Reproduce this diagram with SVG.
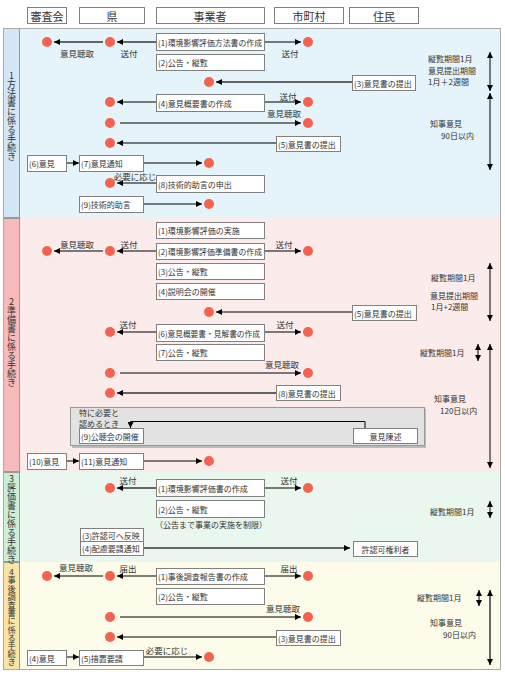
<svg xmlns="http://www.w3.org/2000/svg" width="505" height="685" viewBox="0 0 505 685">
<style>
text{font-family:"Noto Sans CJK JP","Noto Sans",sans-serif;fill:#333;}
.hd{font-size:11px;text-anchor:middle;dominant-baseline:central;}
.bx rect{fill:#fff;stroke:#808080;stroke-width:1;}
.bx text{font-size:8px;dominant-baseline:central;}
.lb{font-size:8.5px;text-anchor:middle;dominant-baseline:central;}
.rt{font-size:8px;dominant-baseline:central;}
.vt{font-size:9px;writing-mode:vertical-rl;text-orientation:upright;dominant-baseline:central;}
.dot{fill:#f5624e;}
.ln{stroke:#000;stroke-width:1;fill:none;marker-end:url(#ah);}
.lg{stroke:#666;stroke-width:2;fill:none;marker-end:url(#ah);}
.da{stroke:#000;stroke-width:1;fill:none;marker-start:url(#ah);marker-end:url(#ah);}
.dg{stroke:#666;stroke-width:2;fill:none;marker-start:url(#ah);marker-end:url(#ah);}
.strip{stroke:#999;stroke-width:1;}
</style>
<defs>
<marker id="ah" viewBox="0 0 6 6" refX="6" refY="3" markerWidth="6" markerHeight="6" markerUnits="userSpaceOnUse" orient="auto-start-reverse"><path d="M0,0 L6,3 L0,6 z" fill="#000"/></marker>
</defs>
<rect width="505" height="685" fill="#fff"/>

<!-- header -->
<g id="header">
<g id="h-shinsakai" class="bx"><rect x="27.5" y="7.5" width="39" height="16"/><text class="hd" x="47" y="15.5" style="font-size:11px">審査会</text></g>
<g id="h-ken" class="bx"><rect x="79.5" y="7.5" width="65" height="16"/><text class="hd" x="112" y="15.5" style="font-size:11px">県</text></g>
<g id="h-jigyosha" class="bx"><rect x="156.5" y="7.5" width="108" height="16"/><text class="hd" x="210" y="15.5" style="font-size:11px">事業者</text></g>
<g id="h-shichoson" class="bx"><rect x="274.5" y="7.5" width="69" height="16"/><text class="hd" x="309" y="15.5" style="font-size:11px">市町村</text></g>
<g id="h-jumin" class="bx"><rect x="349.5" y="7.5" width="69" height="16"/><text class="hd" x="384" y="15.5" style="font-size:11px">住民</text></g>
</g>

<!-- section backgrounds -->
<g id="sections">
<rect x="20" y="28" width="481" height="190" fill="#e5f3fa"/>
<rect x="3.5" y="28.5" width="16" height="189" fill="#d2e6f5" class="strip"/>
<rect x="20" y="218" width="481" height="254" fill="#fbeceb"/>
<rect x="3.5" y="218.5" width="16" height="253" fill="#f7baba" class="strip"/>
<rect x="20" y="472" width="481" height="90" fill="#eaf7ef"/>
<rect x="3.5" y="472.5" width="16" height="89" fill="#cdeed6" class="strip"/>
<rect x="20" y="562" width="481" height="108" fill="#fdfbe9"/>
<rect x="3.5" y="562.5" width="16" height="107" fill="#fbe3a6" class="strip"/>
<rect x="3.5" y="28.5" width="497" height="641" fill="none" stroke="#aaa" stroke-width="1"/>
<text class="vt" x="11.5" y="71">1方法書に係る手続き</text>
<text class="vt" x="11.5" y="297">2準備書に係る手続き</text>
<text class="vt" x="11.5" y="474">3評価書に係る手続き</text>
<text class="vt" x="11.5" y="568" style="font-size:8.2px">4事後調査書に係る手続き</text>
</g>

<!-- gray area -->
<g id="tokuni">
<rect x="72" y="409" width="354" height="39" fill="#bbb"/>
<rect x="70.5" y="407.5" width="354" height="38" fill="#e2e2e2" stroke="#999"/>
<text x="79" y="412" style="font-size:8px" dominant-baseline="central">特に必要と</text>
<text x="79" y="423" style="font-size:8px" dominant-baseline="central">認めるとき</text>
</g>

<!-- connectors -->
<g id="connectors">
<path class="lg" d="M156,42 H117"/>
<path class="lg" d="M103,42 H54"/>
<path class="ln" d="M264,42 H301"/>
<path class="lg" d="M352,82 H216"/>
<path class="ln" d="M156,102 H117"/>
<path class="ln" d="M264,102 H301"/>
<path class="ln" d="M120,123 H301"/>
<path class="ln" d="M276,143 H117"/>
<path class="ln" d="M66,163 H79"/>
<path class="ln" d="M143,163 H202"/>
<path class="ln" d="M156,183 H117"/>
<path class="ln" d="M143,204 H202"/>
<path class="ln" d="M156,251 H117"/>
<path class="ln" d="M103,251 H54"/>
<path class="ln" d="M264,251 H301"/>
<path class="ln" d="M352,312 H216"/>
<path class="ln" d="M156,332 H117"/>
<path class="ln" d="M264,332 H301"/>
<path class="ln" d="M120,373 H301"/>
<path class="lg" d="M276,393 H117"/>
<path class="ln" d="M365,428 V421.5 H130.5 V428"/>
<path class="ln" d="M66,461 H79"/>
<path class="ln" d="M143,461 H202"/>
<path class="lg" d="M156,488 H117"/>
<path class="ln" d="M264,488 H301"/>
<path class="lg" d="M143,548 H350"/>
<path class="ln" d="M156,576 H117"/>
<path class="ln" d="M103,576 H54"/>
<path class="ln" d="M264,576 H301"/>
<path class="ln" d="M120,617 H301"/>
<path class="ln" d="M276,637 H117"/>
<path class="ln" d="M66,657 H79"/>
<path class="ln" d="M143,657 H202"/>
<path class="da" d="M490,52 V91"/>
<path class="da" d="M490,93 V170"/>
<path class="da" d="M490,263 V321"/>
<path class="da" d="M478,344 V361"/>
<path class="da" d="M490,344 V468"/>
<path class="da" d="M490,501 V518"/>
<path class="da" d="M479,590 V606"/>
<path class="dg" d="M490,590 V665"/>
</g>

<!-- dots -->
<g id="dots">
<circle class="dot" cx="47" cy="42" r="5"/><circle class="dot" cx="110" cy="42" r="5"/><circle class="dot" cx="308" cy="42" r="5"/>
<circle class="dot" cx="209" cy="82" r="5"/>
<circle class="dot" cx="110" cy="102" r="5"/><circle class="dot" cx="308" cy="102" r="5"/>
<circle class="dot" cx="110" cy="123" r="5"/><circle class="dot" cx="308" cy="123" r="5"/>
<circle class="dot" cx="110" cy="143" r="5"/>
<circle class="dot" cx="209" cy="163" r="5"/>
<circle class="dot" cx="110" cy="183" r="5"/>
<circle class="dot" cx="209" cy="204" r="5"/>
<circle class="dot" cx="47" cy="251" r="5"/><circle class="dot" cx="110" cy="251" r="5"/><circle class="dot" cx="308" cy="251" r="5"/>
<circle class="dot" cx="209" cy="312" r="5"/>
<circle class="dot" cx="110" cy="332" r="5"/><circle class="dot" cx="308" cy="332" r="5"/>
<circle class="dot" cx="110" cy="373" r="5"/><circle class="dot" cx="308" cy="373" r="5"/>
<circle class="dot" cx="110" cy="393" r="5"/>
<circle class="dot" cx="209" cy="461" r="5"/>
<circle class="dot" cx="110" cy="488" r="5"/><circle class="dot" cx="308" cy="488" r="5"/>
<circle class="dot" cx="47" cy="576" r="5"/><circle class="dot" cx="110" cy="576" r="5"/><circle class="dot" cx="308" cy="576" r="5"/>
<circle class="dot" cx="110" cy="617" r="5"/><circle class="dot" cx="308" cy="617" r="5"/>
<circle class="dot" cx="110" cy="637" r="5"/>
<circle class="dot" cx="209" cy="657" r="5"/>
</g>

<!-- section 1 nodes -->
<g id="s1-1" class="bx"><rect x="156.5" y="33.5" width="108" height="17"/><text x="158" y="42" textLength="104" lengthAdjust="spacingAndGlyphs">(1)環境影響評価方法書の作成</text></g>
<g id="s1-2" class="bx"><rect x="156.5" y="54.5" width="108" height="16"/><text x="158" y="62.5">(2)公告・縦覧</text></g>
<g id="s1-3" class="bx"><rect x="352.5" y="75.5" width="63" height="15"/><text x="354" y="83">(3)意見書の提出</text></g>
<g id="s1-4" class="bx"><rect x="156.5" y="94.5" width="108" height="17"/><text x="158" y="103">(4)意見概要書の作成</text></g>
<g id="s1-5" class="bx"><rect x="276.5" y="136.5" width="64" height="15"/><text x="278" y="144">(5)意見書の提出</text></g>
<g id="s1-6" class="bx"><rect x="27.5" y="155.5" width="39" height="16"/><text x="29" y="163.5">(6)意見</text></g>
<g id="s1-7" class="bx"><rect x="79.5" y="155.5" width="64" height="16"/><text x="81" y="163.5">(7)意見通知</text></g>
<g id="s1-8" class="bx"><rect x="156.5" y="175.5" width="108" height="17"/><text x="158" y="184">(8)技術的助言の申出</text></g>
<g id="s1-9" class="bx"><rect x="79.5" y="196.5" width="64" height="16"/><text x="81" y="204.5">(9)技術的助言</text></g>

<!-- section 2 nodes -->
<g id="s2-1" class="bx"><rect x="156.5" y="222.5" width="108" height="16"/><text x="158" y="230.5">(1)環境影響評価の実施</text></g>
<g id="s2-2" class="bx"><rect x="156.5" y="243.5" width="108" height="16"/><text x="158" y="251.5" textLength="104" lengthAdjust="spacingAndGlyphs">(2)環境影響評価準備書の作成</text></g>
<g id="s2-3" class="bx"><rect x="156.5" y="263.5" width="108" height="16"/><text x="158" y="271.5">(3)公告・縦覧</text></g>
<g id="s2-4" class="bx"><rect x="156.5" y="283.5" width="108" height="16"/><text x="158" y="291.5">(4)説明会の開催</text></g>
<g id="s2-5" class="bx"><rect x="352.5" y="305.5" width="64" height="15"/><text x="354" y="313">(5)意見書の提出</text></g>
<g id="s2-6" class="bx"><rect x="156.5" y="324.5" width="108" height="17"/><text x="158" y="333" textLength="102" lengthAdjust="spacingAndGlyphs">(6)意見概要書・見解書の作成</text></g>
<g id="s2-7" class="bx"><rect x="156.5" y="344.5" width="108" height="16"/><text x="158" y="352.5">(7)公告・縦覧</text></g>
<g id="s2-8" class="bx"><rect x="276.5" y="385.5" width="64" height="15"/><text x="278" y="393">(8)意見書の提出</text></g>
<g id="s2-9" class="bx"><rect x="79.5" y="428.5" width="64" height="15"/><text x="81" y="436">(9)公聴会の開催</text></g>
<g id="s2-chinjutsu" class="bx"><rect x="353.5" y="428.5" width="64" height="15"/><text x="385.5" y="436" text-anchor="middle">意見陳述</text></g>
<g id="s2-10" class="bx"><rect x="27.5" y="453.5" width="39" height="16"/><text x="29" y="461.5">(10)意見</text></g>
<g id="s2-11" class="bx"><rect x="79.5" y="453.5" width="64" height="16"/><text x="81" y="461.5">(11)意見通知</text></g>

<!-- section 3 nodes -->
<g id="s3-1" class="bx"><rect x="156.5" y="479.5" width="108" height="17"/><text x="158" y="488">(1)環境影響評価書の作成</text></g>
<g id="s3-2" class="bx"><rect x="156.5" y="500.5" width="108" height="17"/><text x="158" y="509">(2)公告・縦覧</text></g>
<text x="155" y="524" style="font-size:8px" dominant-baseline="central">（公告まで事業の実施を制限）</text>
<g id="s3-3" class="bx"><rect x="80.5" y="528.5" width="63" height="13"/><text x="82" y="535">(3)許認可へ反映</text></g>
<g id="s3-4" class="bx"><rect x="80.5" y="541.5" width="63" height="14"/><text x="82" y="548.5">(4)配慮要請通知</text></g>
<g id="s3-kyoninka" class="bx"><rect x="353.5" y="541.5" width="64" height="15"/><text x="385.5" y="549" text-anchor="middle">許認可権利者</text></g>

<!-- section 4 nodes -->
<g id="s4-1" class="bx"><rect x="156.5" y="568.5" width="108" height="16"/><text x="158" y="576.5">(1)事後調査報告書の作成</text></g>
<g id="s4-2" class="bx"><rect x="156.5" y="588.5" width="108" height="16"/><text x="158" y="596.5">(2)公告・縦覧</text></g>
<g id="s4-3" class="bx"><rect x="276.5" y="630.5" width="64" height="15"/><text x="278" y="638">(3)意見書の提出</text></g>
<g id="s4-4" class="bx"><rect x="27.5" y="650.5" width="39" height="15"/><text x="29" y="658">(4)意見</text></g>
<g id="s4-5" class="bx"><rect x="79.5" y="650.5" width="64" height="15"/><text x="81" y="658">(5)措置要請</text></g>

<!-- connector labels -->
<g id="labels">
<text class="lb" x="77" y="53">意見聴取</text>
<text class="lb" x="129" y="53">送付</text>
<text class="lb" x="290" y="53">送付</text>
<text class="lb" x="288" y="96">送付</text>
<text class="lb" x="284" y="113">意見聴取</text>
<text class="lb" x="135" y="176">必要に応じ</text>
<text class="lb" x="77" y="244">意見聴取</text>
<text class="lb" x="129" y="244">送付</text>
<text class="lb" x="284" y="244">送付</text>
<text class="lb" x="128" y="324">送付</text>
<text class="lb" x="285" y="324">送付</text>
<text class="lb" x="282" y="364">意見聴取</text>
<text class="lb" x="128" y="480">送付</text>
<text class="lb" x="289" y="480">送付</text>
<text class="lb" x="76" y="567">意見聴取</text>
<text class="lb" x="128" y="568">届出</text>
<text class="lb" x="289" y="568">届出</text>
<text class="lb" x="283" y="608">意見聴取</text>
<text class="lb" x="167" y="650">必要に応じ</text>
</g>

<!-- period notes -->
<g id="notes">
<text class="rt" x="428" y="58">縦覧期間1月</text>
<text class="rt" x="428" y="70">意見提出期間</text>
<text class="rt" x="428" y="81">1月＋2週間</text>
<text class="rt" x="430" y="123">知事意見</text>
<text class="rt" x="441" y="135">90日以内</text>
<text class="rt" x="431" y="277">縦覧期間1月</text>
<text class="rt" x="430" y="295">意見提出期間</text>
<text class="rt" x="431" y="306">1月+2週間</text>
<text class="rt" x="420" y="352">縦覧期間1月</text>
<text class="rt" x="434" y="398">知事意見</text>
<text class="rt" x="440" y="410">120日以内</text>
<text class="rt" x="430" y="511">縦覧期間1月</text>
<text class="rt" x="417" y="597">縦覧期間1月</text>
<text class="rt" x="430" y="622">知事意見</text>
<text class="rt" x="443" y="634">90日以内</text>
</g>
</svg>
